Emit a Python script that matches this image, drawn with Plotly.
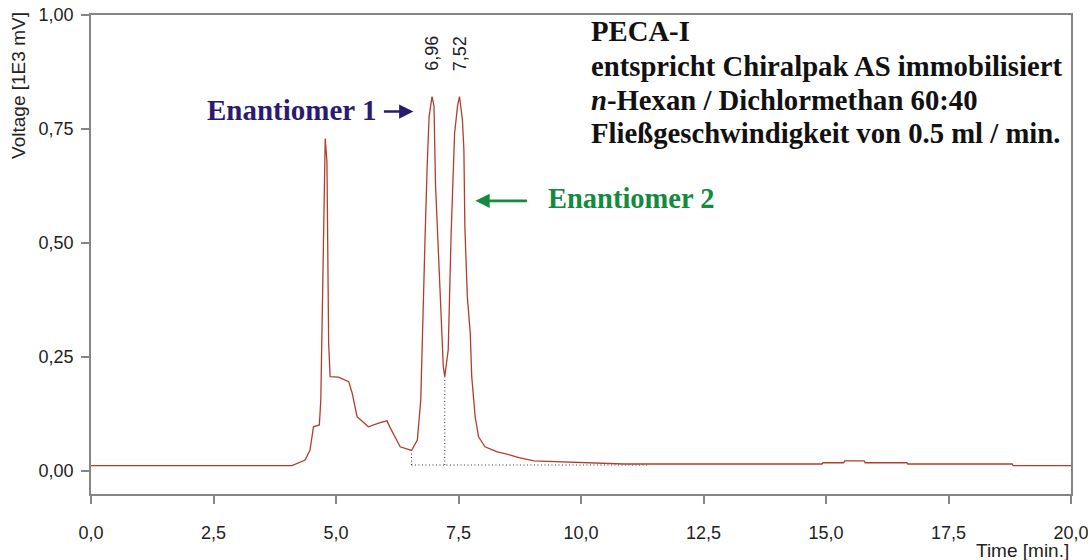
import plotly.graph_objects as go

# Chromatogram trace: retention time (min) and detector signal (1E3 mV)
time_min = [
    0.00, 4.00, 4.10, 4.37, 4.47, 4.54, 4.66, 4.69, 4.72, 4.75, 4.78, 4.815,
    4.85, 4.88, 5.05, 5.26, 5.33, 5.43, 5.66, 5.90, 6.04, 6.11, 6.31, 6.54,
    6.66, 6.73, 6.76, 6.82, 6.86, 6.90, 6.96, 7.00, 7.03, 7.10, 7.16, 7.19,
    7.22, 7.29, 7.35, 7.42, 7.48, 7.52, 7.58, 7.61, 7.63, 7.68, 7.74, 7.77,
    7.84, 7.91, 8.04, 8.29, 8.56, 8.73, 9.04, 10.02, 10.87, 14.92, 14.94,
    15.36, 15.38, 15.78, 15.80, 16.65, 16.67, 18.80, 18.82, 20.00,
]
voltage = [
    0.0105, 0.0105, 0.0105, 0.023, 0.045, 0.096, 0.100, 0.155, 0.374, 0.594,
    0.729, 0.678, 0.279, 0.206, 0.205, 0.195, 0.170, 0.118, 0.096, 0.105,
    0.109, 0.093, 0.052, 0.044, 0.067, 0.155, 0.301, 0.521, 0.667, 0.777,
    0.821, 0.800, 0.630, 0.447, 0.308, 0.228, 0.206, 0.265, 0.521, 0.740,
    0.800, 0.821, 0.770, 0.704, 0.535, 0.382, 0.301, 0.206, 0.118, 0.074,
    0.052, 0.041, 0.034, 0.028, 0.021, 0.018, 0.0143, 0.0143, 0.017, 0.017,
    0.021, 0.021, 0.017, 0.017, 0.0143, 0.0143, 0.0105, 0.0105,
]

# Integration markers
peak_times = [6.96, 7.52]
peak_labels = ["6,96", "7,52"]
peak_start = [6.54, 0.044]
peak_valley = [7.22, 0.206]
baseline_end_t = 11.35
baseline_level = 0.012

x_ticks = [0, 2.5, 5, 7.5, 10, 12.5, 15, 17.5, 20]
y_ticks = [0, 0.25, 0.5, 0.75, 1.0]

info_lines = [
    "<b>PECA-I</b>",
    "<b>entspricht Chiralpak AS immobilisiert</b>",
    "<b><i>n</i>-Hexan / Dichlormethan 60:40</b>",
    "<b>Fließgeschwindigkeit von 0.5 ml / min.</b>",
]

TRACE_COLOR = "#b23e2a"
AXIS_COLOR = "#858585"
SANS = "Liberation Sans, Arial, sans-serif"
SERIF = "Liberation Serif, Times New Roman, serif"

fig = go.Figure()

# dotted integration baseline and drop lines
dot = dict(color="#333333", width=1, dash="1px,2.5px")
fig.add_trace(go.Scatter(
    x=[peak_start[0], baseline_end_t], y=[baseline_level, baseline_level],
    mode="lines", line=dot, hoverinfo="skip", showlegend=False))
fig.add_trace(go.Scatter(
    x=[peak_start[0], peak_start[0]], y=[baseline_level, peak_start[1]],
    mode="lines", line=dot, hoverinfo="skip", showlegend=False))
fig.add_trace(go.Scatter(
    x=[peak_valley[0], peak_valley[0]], y=[baseline_level, peak_valley[1]],
    mode="lines", line=dot, hoverinfo="skip", showlegend=False))

fig.add_trace(go.Scatter(
    x=time_min, y=voltage, mode="lines",
    line=dict(color=TRACE_COLOR, width=1.3), showlegend=False))

annotations = []

# retention time labels above the peaks
for t, lab in zip(peak_times, peak_labels):
    annotations.append(dict(
        x=t, y=0.915, xref="x", yref="y", text=lab, textangle=-90,
        showarrow=False, font=dict(family=SANS, size=18, color="#222222"),
        xanchor="center", yanchor="middle"))

# enantiomer callouts
annotations.append(dict(
    x=5.86, y=0.791, xref="x", yref="y", text="<b>Enantiomer 1</b>",
    showarrow=False, xanchor="right", yanchor="middle",
    font=dict(family=SERIF, size=29, color="#2b1b6e")))
annotations.append(dict(
    x=6.58, y=0.788, xref="x", yref="y", ax=-31, ay=0, text="",
    showarrow=True, arrowhead=2, arrowsize=1.1, arrowwidth=2.6,
    arrowcolor="#2b1b6e"))
annotations.append(dict(
    x=9.28, y=0.598, xref="x", yref="y", text="<b>Enantiomer 2</b>",
    showarrow=False, xanchor="left", yanchor="middle",
    font=dict(family=SERIF, size=28.5, color="#138a3e")))
annotations.append(dict(
    x=7.845, y=0.592, xref="x", yref="y", ax=53, ay=0, text="",
    showarrow=True, arrowhead=2, arrowsize=1.1, arrowwidth=2.6,
    arrowcolor="#138a3e"))

# method information block
line_y = [0.964, 0.887, 0.813, 0.741]
for txt, yy in zip(info_lines, line_y):
    annotations.append(dict(
        x=10.17, y=yy, xref="x", yref="y", text=txt, showarrow=False,
        xanchor="left", yanchor="middle",
        font=dict(family=SERIF, size=28.7, color="#111111")))

# axis titles
annotations.append(dict(
    x=-0.0735, y=0.854, xref="paper", yref="paper", text="Voltage [1E3 mV]",
    textangle=-90, showarrow=False, xanchor="center", yanchor="middle",
    font=dict(family=SANS, size=19, color="#222222")))
annotations.append(dict(
    x=1.0, y=-0.117, xref="paper", yref="paper", text="Time [min.]",
    showarrow=False, xanchor="right", yanchor="middle",
    font=dict(family=SANS, size=19, color="#222222")))

axis_common = dict(
    showline=True, linecolor=AXIS_COLOR, linewidth=1.6, mirror=True,
    ticks="outside", ticklen=8, tickwidth=1.6, tickcolor=AXIS_COLOR,
    showgrid=False, zeroline=False, automargin=False,
    ticklabeloverflow="allow",
    tickfont=dict(family=SANS, size=18, color="#222222"))

fig.update_layout(
    width=1088, height=560,
    margin=dict(l=91, r=17, t=15, b=66, autoexpand=False),
    paper_bgcolor="white", plot_bgcolor="white",
    separators=",.",
    xaxis=dict(range=[0, 20], tickvals=x_ticks, tickformat=".1f",
               ticklabelstandoff=14, **axis_common),
    yaxis=dict(range=[-0.0516, 1.0], tickvals=y_ticks, tickformat=".2f",
               ticklabelstandoff=4, **axis_common),
    annotations=annotations,
)

fig.write_html("out.html")
